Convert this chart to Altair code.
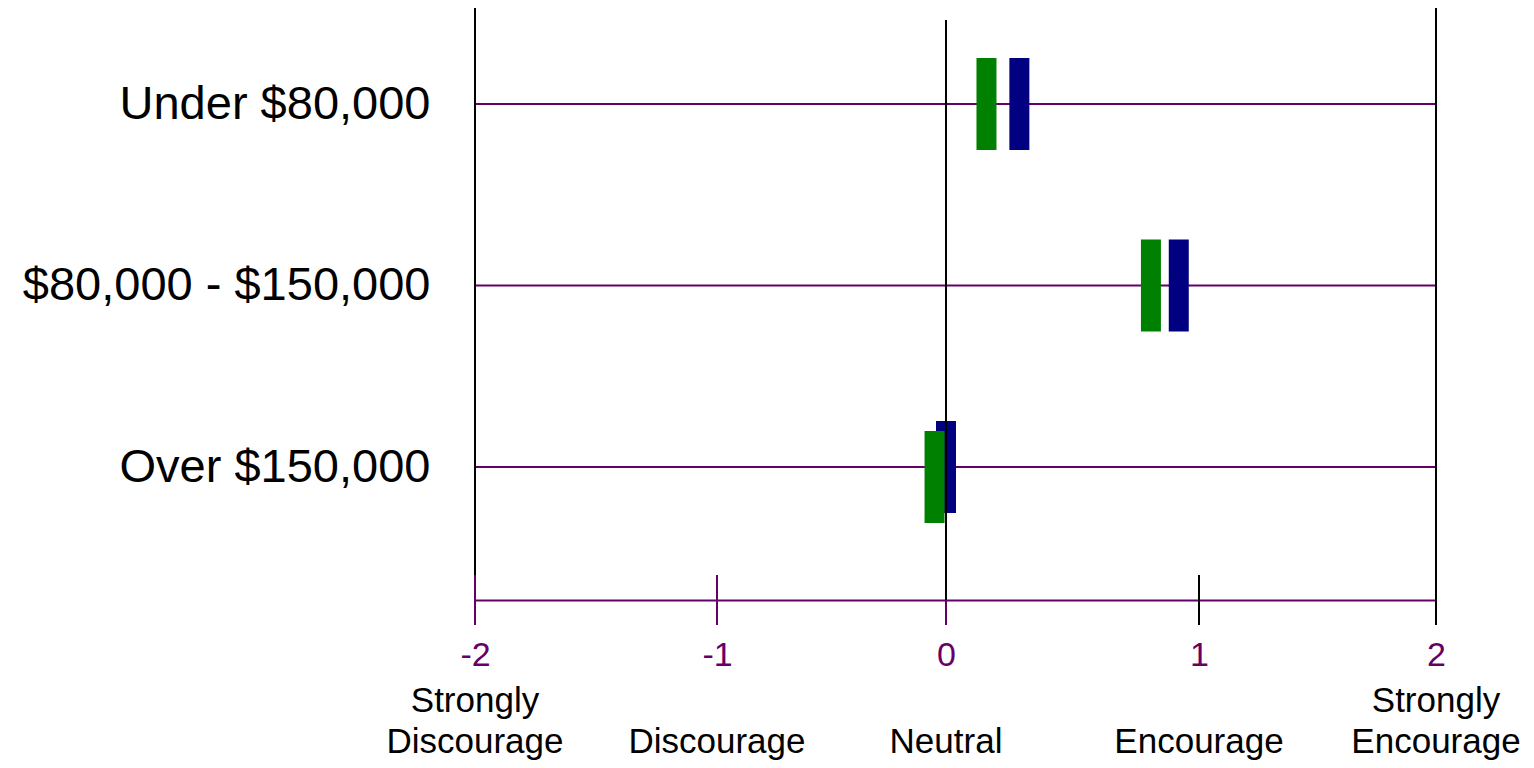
import altair as alt
import pandas as pd

# ---- data ----
income_groups = ["Under $80,000", "$80,000 - $150,000", "Over $150,000"]
series_green = [0.16, 0.81, -0.05]
series_blue = [0.29, 0.92, 0.00]
tick_values = [-2, -1, 0, 1, 2]
scale_labels = ["Strongly\nDiscourage", "Discourage", "Neutral", "Encourage", "Strongly\nEncourage"]

# ---- styling ----
PURPLE = "#660066"
GREEN = "#008000"
NAVY = "#000080"
FONT = "Liberation Sans"
W, H = 961, 592

bars = pd.DataFrame({"income": income_groups, "green": series_green, "blue": series_blue})
scale_df = pd.DataFrame({"v": tick_values, "label": scale_labels})

xscale = alt.Scale(domain=tick_values, range=[0, 242, 471, 724, 961], nice=False, zero=False)
yscale = alt.Scale(type="point", domain=income_groups, range=[96, 459], padding=0)


def X(field):
    return alt.X(field, type="quantitative", scale=xscale, title=None,
                 axis=alt.Axis(values=tick_values, labelExpr="toString(datum.value)"))


def Y():
    return alt.Y("income", type="nominal", scale=yscale, sort=income_groups, title=None)


# horizontal category lines
hlines = alt.Chart(bars).mark_rule(color=PURPLE, strokeWidth=2).encode(y=Y())

# outer frame lines at -2 and 2
outer = alt.Chart(scale_df).transform_filter("abs(datum.v) == 2").mark_rule(
    color="black", strokeWidth=2).encode(x=X("v"))

blue = alt.Chart(bars).mark_tick(color=NAVY, thickness=20, size=92, opacity=1).encode(
    x=X("blue"), y=Y())

green_clear = alt.Chart(bars).transform_filter(
    "abs(datum.green - datum.blue) >= 0.1").mark_tick(
    color=GREEN, thickness=20, size=92, opacity=1).encode(x=X("green"), y=Y())

green_nudged = alt.Chart(bars).transform_filter(
    "abs(datum.green - datum.blue) < 0.1").mark_tick(
    color=GREEN, thickness=20, size=92, opacity=1, yOffset=10).encode(x=X("green"), y=Y())

zero_line = alt.Chart(scale_df).transform_filter("datum.v == 0").mark_rule(
    color="black", strokeWidth=2).encode(x=X("v"), y=alt.value(12), y2=alt.value(H))

tick_up = alt.Chart(scale_df).mark_rule(strokeWidth=2).encode(
    x=X("v"), y=alt.value(H - 25), y2=alt.value(H),
    color=alt.condition("datum.v >= 0", alt.value("black"), alt.value(PURPLE)),
)
tick_down = alt.Chart(scale_df).mark_rule(strokeWidth=2).encode(
    x=X("v"), y=alt.value(H), y2=alt.value(H + 25),
    color=alt.condition("datum.v <= 0", alt.value(PURPLE), alt.value("black")),
)

words_base = alt.Chart(scale_df).transform_calculate(
    parts="split(datum.label, '\\n')"
).transform_calculate(
    line1="length(datum.parts) > 1 ? datum.parts[0] : ''",
    line2="datum.parts[length(datum.parts) - 1]",
)
words1 = words_base.mark_text(align="center", baseline="alphabetic", fontSize=35,
                              font=FONT, color="black").encode(
    x=X("v"), y=alt.value(H + 112), text="line1:N")
words2 = words_base.mark_text(align="center", baseline="alphabetic", fontSize=35,
                              font=FONT, color="black").encode(
    x=X("v"), y=alt.value(H + 153), text="line2:N")

chart = alt.layer(
    hlines, outer, blue, green_clear, green_nudged, zero_line, tick_up, tick_down,
    words1, words2
).properties(
    width=W, height=H,
    autosize=alt.AutoSizeParams(type="none"),
    padding={"left": 467, "top": 0, "right": 90, "bottom": 160},
).configure(
    background="white"
).configure_view(
    stroke=None
).configure_axis(
    grid=False, ticks=False, titleFontSize=0,
).configure_axisX(
    domainColor=PURPLE, domainWidth=2, labelColor=PURPLE, labelFontSize=34,
    labelFont=FONT, labelPadding=38, labelFlush=False, labelOverlap=False,
).configure_axisY(
    domain=False, labelFontSize=47, labelFont=FONT, labelColor="black",
    labelPadding=45, labelLimit=600, labelBaseline="middle",
)

chart.save("out.html", embed_options={"renderer": "svg", "actions": False})
